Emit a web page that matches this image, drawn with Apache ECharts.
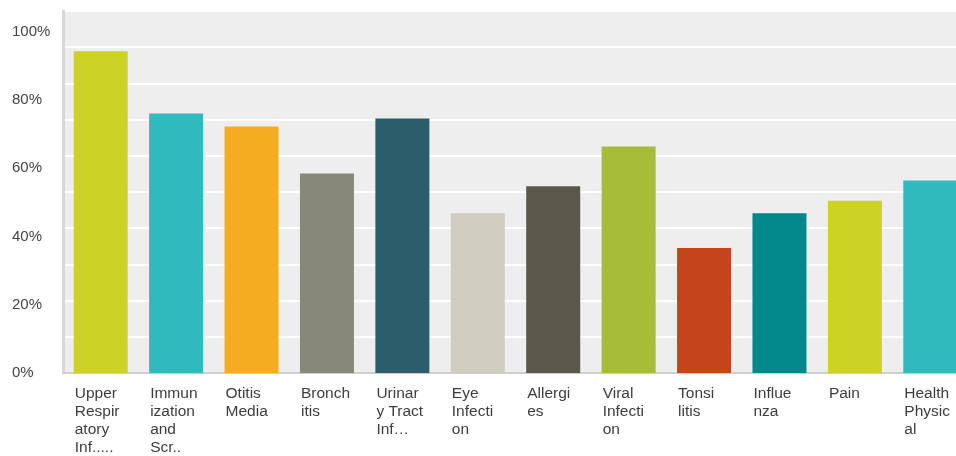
<!DOCTYPE html>
<html>
<head>
<meta charset="utf-8">
<script src="https://cdn.jsdelivr.net/npm/echarts@6/dist/echarts.min.js"></script>
<style>
html,body{margin:0;padding:0;background:#fff;}
#chart{width:956px;height:456px;}
</style>
</head>
<body>
<div id="chart"></div>
<script>
const categories = [
  "Upper\nRespir\natory\nInf.....",
  "Immun\nization\nand\nScr..",
  "Otitis\nMedia",
  "Bronch\nitis",
  "Urinar\ny Tract\nInf…",
  "Eye\nInfecti\non",
  "Allergi\nes",
  "Viral\nInfecti\non",
  "Tonsi\nlitis",
  "Influe\nnza",
  "Pain",
  "Health\nPhysic\nal"
];
const values = [88.9, 71.7, 68.1, 55.1, 70.3, 44.1, 51.6, 62.6, 34.5, 44.1, 47.6, 53.2];
const barColors = ["#cdd325", "#31babd", "#f5ad1f", "#888878", "#2c5d6b", "#cfcdbf",
                   "#5a584a", "#a7bd37", "#c5451b", "#02888a", "#cdd325", "#31babd"];
const tickLabels = [0, 20, 40, 60, 80, 100];

const chart = echarts.init(document.getElementById('chart'), null, {renderer: 'canvas'});
const font = '"Liberation Sans", Arial, sans-serif';

chart.setOption({
  animation: false,
  backgroundColor: '#ffffff',
  grid: {
    left: 63, right: -12, top: 11, bottom: 83,
    outerBoundsMode: 'none',
    containLabel: false,
    show: true, backgroundColor: '#eeeeee', borderWidth: 0
  },
  xAxis: {
    type: 'category',
    data: categories,
    boundaryGap: true,
    axisLine: {show: true, lineStyle: {color: '#cfcfcf', width: 2}},
    axisTick: {show: false},
    axisLabel: {
      interval: 0,
      margin: 12,
      align: 'center',
      verticalAlign: 'top',
      hideOverlap: false,
      formatter: function (v) {
        return v.split('\n').map(s => '{a|' + s + '}').join('\n');
      },
      rich: {
        a: {width: 52, align: 'left', fontSize: 15.5, lineHeight: 18, color: '#3d3d3d', fontFamily: font}
      }
    }
  },
  yAxis: [
    {
      type: 'value', min: 0, max: 100, interval: 10,
      axisLine: {show: false}, axisTick: {show: false}, axisLabel: {show: false},
      splitLine: {show: true, lineStyle: {color: '#ffffff', width: 2}}
    },
    {
      type: 'value', min: 0, max: 106, interval: 20, position: 'left',
      axisLine: {show: true, lineStyle: {color: '#d8d8d8', width: 3}},
      axisTick: {show: false},
      splitLine: {show: false},
      axisLabel: {
        margin: 51, align: 'left',
        fontSize: 15, color: '#444444', fontFamily: font,
        formatter: function (v) {
          return tickLabels.indexOf(Math.round(v * 10) / 10) >= 0 ? v + '%' : '';
        }
      }
    }
  ],
  series: [{
    type: 'bar',
    yAxisIndex: 0,
    barWidth: 54,
    data: values.map((v, i) => ({value: v, itemStyle: {color: barColors[i]}}))
  }]
});
</script>
</body>
</html>
